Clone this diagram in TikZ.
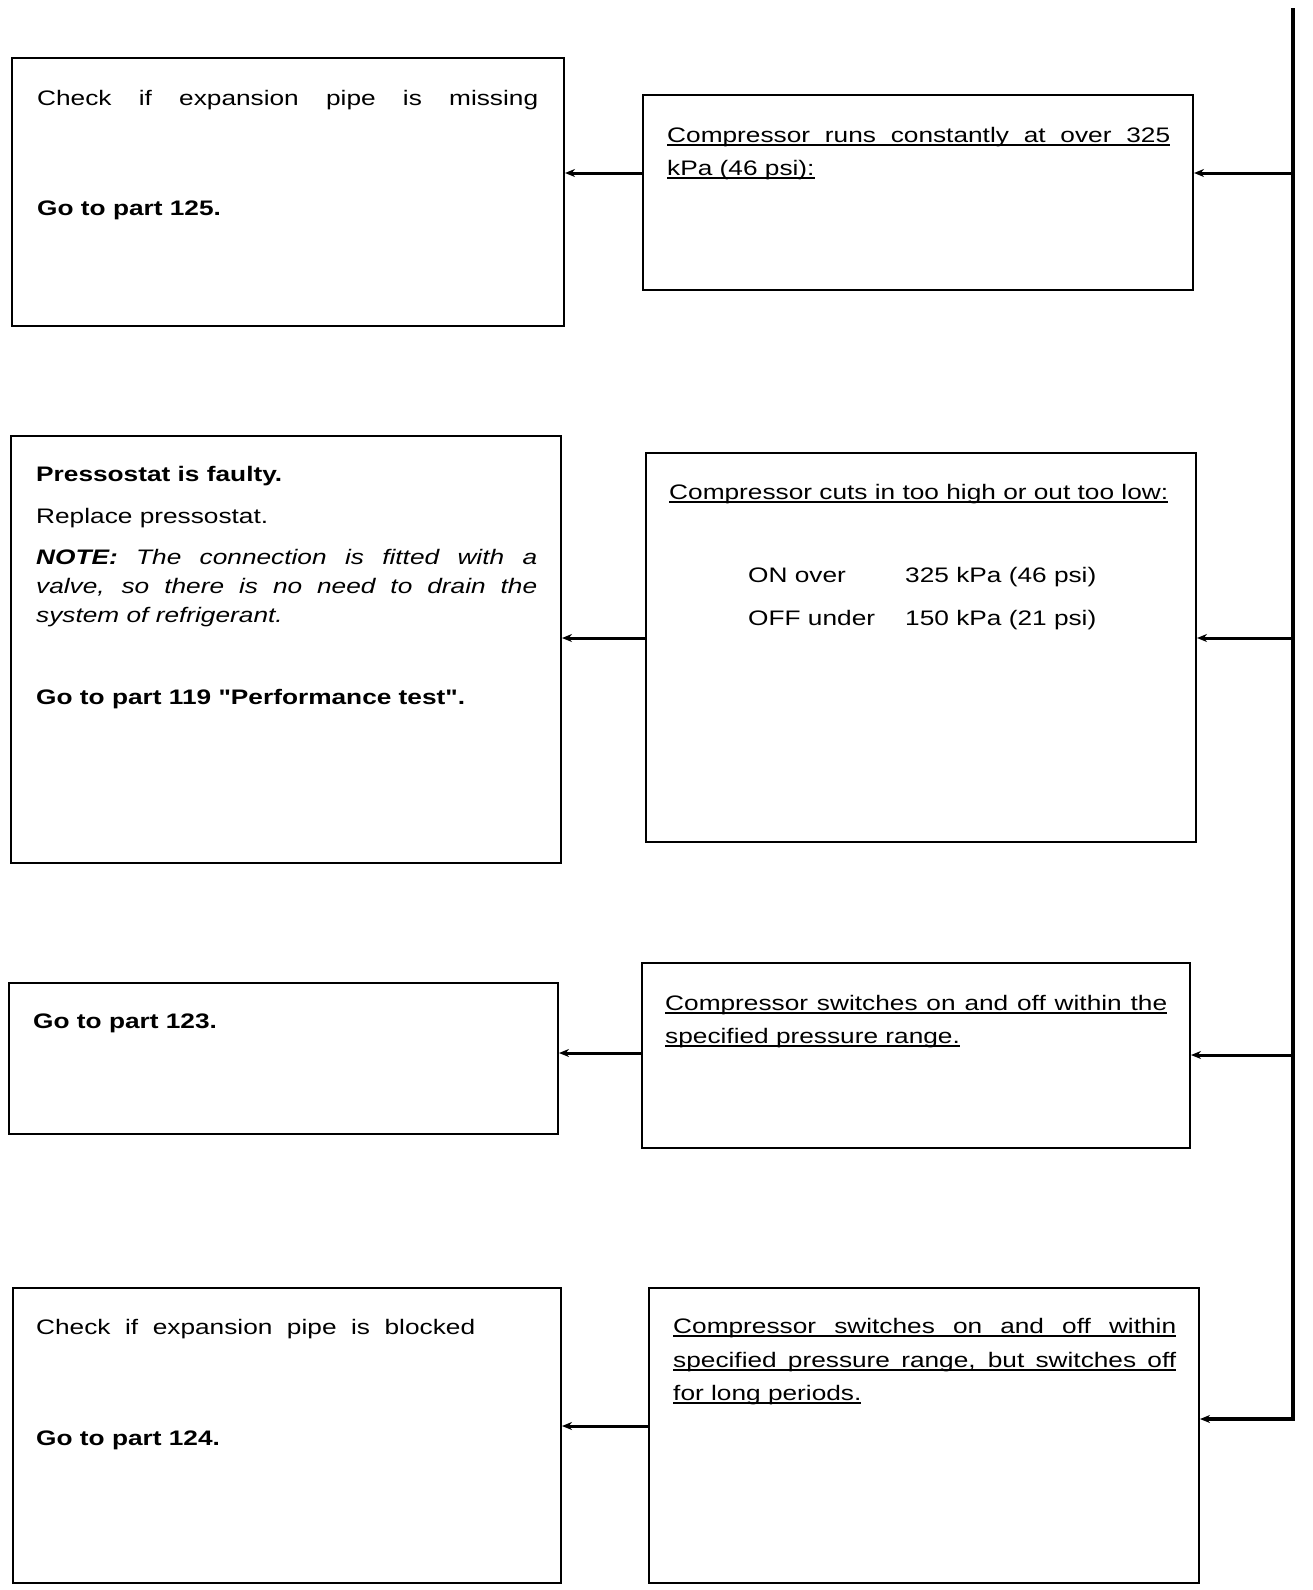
\documentclass[tikz,border=0pt]{standalone}
\usepackage{fontspec}
\setmainfont{Liberation Sans}[FakeStretch=1.25, Ligatures=TeXOff]
\usetikzlibrary{arrows.meta}
\newcommand\jus[2]{\makebox[#1][s]{#2}}
\newcommand\ulj[2]{\setbox0\hbox{\makebox[#1][s]{#2}}\rlap{\rule[-4pt]{\wd0}{1.8pt}}\box0}
\newcommand\uln[1]{\setbox0\hbox{#1}\rlap{\rule[-4pt]{\wd0}{1.8pt}}\box0}
\begin{document}
\begin{tikzpicture}[x=1pt,y=-1pt,
  box/.style={draw, line width=2pt, rectangle, inner sep=0pt},
  txt/.style={anchor=base west, inner sep=0pt, font=\fontsize{21}{25}\selectfont},
  arr/.style={line width=3pt, -{Stealth[length=10pt,width=8pt]}},
  trunk/.style={line width=3.5pt, line join=miter, -{Stealth[length=10pt,width=8pt]}}]
\useasboundingbox (0,0) rectangle (1312,1590);
% boxes
\node[box, minimum width=552pt, minimum height=268pt] (L1) at (288,192) {};
\node[box, minimum width=550pt, minimum height=195pt] (R1) at (918,192.5) {};
\node[box, minimum width=550pt, minimum height=427pt] (L2) at (286,649.5) {};
\node[box, minimum width=550pt, minimum height=389pt] (R2) at (921,647.5) {};
\node[box, minimum width=549pt, minimum height=151pt] (L3) at (283.5,1058) {};
\node[box, minimum width=548pt, minimum height=185pt] (R3) at (916,1055.5) {};
\node[box, minimum width=548pt, minimum height=295pt] (L4) at (287,1435.5) {};
\node[box, minimum width=550pt, minimum height=295pt] (R4) at (924,1435.5) {};
% texts
\node[txt] (t1a) at (37,105) {\jus{501pt}{Check if expansion pipe is missing}};
\node[txt] (t1b) at (37,215) {\textbf{Go to part 125.}};
\node[txt] (t2a) at (667,142) {\ulj{503pt}{Compressor runs constantly at over 325}};
\node[txt] (t2b) at (667,175) {\uln{kPa (46 psi):}};
\node[txt] (t3a) at (36,481) {\textbf{Pressostat is faulty.}};
\node[txt] (t3b) at (36,523) {Replace pressostat.};
\node[txt] (t3c) at (36,564) {\jus{501pt}{\textbf{\textit{NOTE:}} \textit{The connection is fitted with a}}};
\node[txt] (t3d) at (36,593) {\jus{501pt}{\textit{valve, so there is no need to drain the}}};
\node[txt] (t3e) at (36,622) {\textit{system of refrigerant.}};
\node[txt] (t3f) at (36,704) {\textbf{Go to part 119 "Performance test".}};
\node[txt] (t4a) at (669,499) {\uln{Compressor cuts in too high or out too low:}};
\node[txt] (t4b) at (748,582) {ON over};
\node[txt] (t4c) at (905,582) {325 kPa (46 psi)};
\node[txt] (t4d) at (748,625) {OFF under};
\node[txt] (t4e) at (905,625) {150 kPa (21 psi)};
\node[txt] (t5a) at (33,1028) {\textbf{Go to part 123.}};
\node[txt] (t6a) at (665,1010) {\ulj{502pt}{Compressor switches on and off within the}};
\node[txt] (t6b) at (665,1043) {\uln{specified pressure range.}};
\node[txt] (t7a) at (36,1334) {\jus{439pt}{Check if expansion pipe is blocked}};
\node[txt] (t7b) at (36,1445) {\textbf{Go to part 124.}};
\node[txt] (t8a) at (673,1333) {\ulj{503pt}{Compressor switches on and off within}};
\node[txt] (t8b) at (673,1367) {\ulj{503pt}{specified pressure range, but switches off}};
\node[txt] (t8c) at (673,1400) {\uln{for long periods.}};
% coordinates
\coordinate (a1) at (0,173);
\coordinate (a2) at (0,638);
\coordinate (a3) at (0,1053);
\coordinate (a4) at (0,1426);
\coordinate (top) at (1293,8);
\coordinate (j1) at (1293,173);
\coordinate (j2) at (1293,638);
\coordinate (j3) at (1293,1055);
\coordinate (j4) at (1293,1419);
% connectors right to left
\draw[arr] (R1.west |- a1) -- (L1.east |- a1);
\draw[arr] (R2.west |- a2) -- (L2.east |- a2);
\draw[arr] (R3.west |- a3) -- (L3.east |- a3);
\draw[arr] (R4.west |- a4) -- (L4.east |- a4);
% trunk
\draw[trunk] (top) -- (j4) -- (R4.east |- j4);
\draw[arr] (j1) -- (R1.east |- j1);
\draw[arr] (j2) -- (R2.east |- j2);
\draw[arr] (j3) -- (R3.east |- j3);
\end{tikzpicture}
\end{document}
